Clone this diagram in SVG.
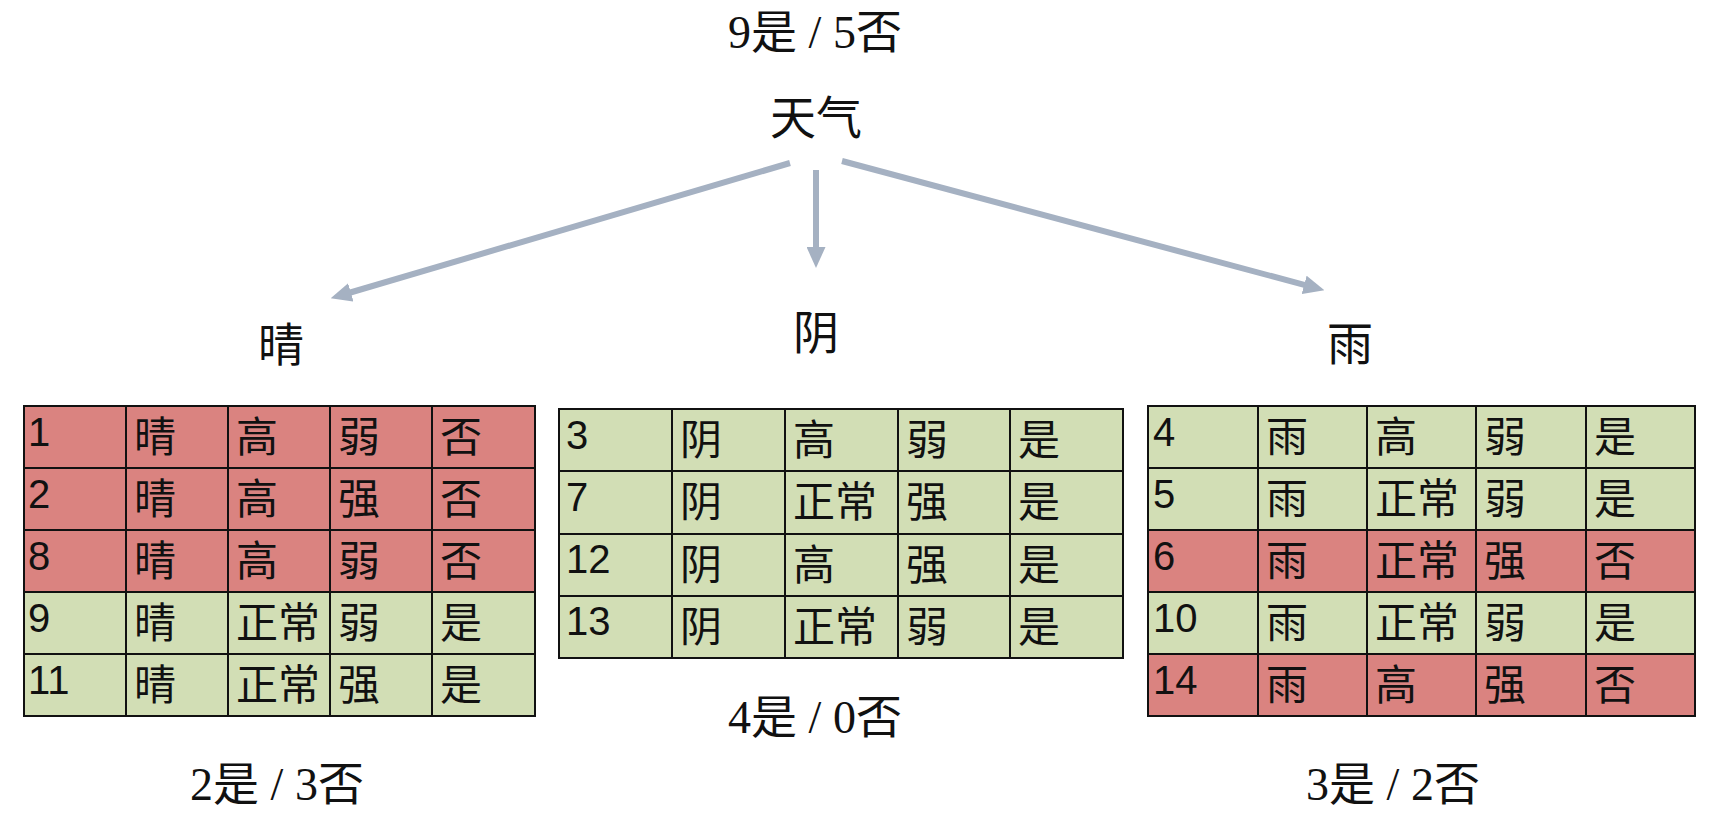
<svg xmlns="http://www.w3.org/2000/svg" width="1726" height="824" viewBox="0 0 1726 824">
<style>
.bg{fill:#ffffff}
.r{fill:#DA8380;stroke:#111;stroke-width:2}
.g{fill:#D2DEB5;stroke:#111;stroke-width:2}
.num{font-family:"Liberation Sans","Noto Sans CJK SC",sans-serif;font-size:40px;fill:#111}
.cjk{font-family:"Noto Sans CJK SC","Liberation Sans",sans-serif;font-size:42px;fill:#111}
.lbl{font-family:"Liberation Serif","Noto Sans CJK SC",serif;font-size:46px;fill:#111;text-anchor:middle}
.arr{stroke:#A5B1C2;stroke-width:6;fill:none;marker-end:url(#ah)}
</style>
<defs>
<marker id="ah" markerUnits="userSpaceOnUse" markerWidth="21" markerHeight="19" refX="4" refY="9.5" orient="auto">
<path d="M0,0 L21,9.5 L0,19 z" fill="#A5B1C2"/>
</marker>
</defs>
<rect class="bg" x="0" y="0" width="1726" height="824"/>

<g id="root">
<text class="lbl" x="815" y="48">9是 / 5否</text>
<text class="lbl" x="816" y="134">天气</text>
</g>

<g id="connectors">
<line class="arr" x1="790" y1="163" x2="347" y2="293.5"/>
<line class="arr" x1="816" y1="170" x2="816" y2="251"/>
<line class="arr" x1="842" y1="161" x2="1308" y2="285.9"/>
</g>

<g id="sunny">
<text class="lbl" x="281" y="361">晴</text>
<g id="sunny-table">
<rect class="r" x="24" y="406" width="102" height="62"/><rect class="r" x="126" y="406" width="102" height="62"/><rect class="r" x="228" y="406" width="102" height="62"/><rect class="r" x="330" y="406" width="102" height="62"/><rect class="r" x="432" y="406" width="103" height="62"/>
<rect class="r" x="24" y="468" width="102" height="62"/><rect class="r" x="126" y="468" width="102" height="62"/><rect class="r" x="228" y="468" width="102" height="62"/><rect class="r" x="330" y="468" width="102" height="62"/><rect class="r" x="432" y="468" width="103" height="62"/>
<rect class="r" x="24" y="530" width="102" height="62"/><rect class="r" x="126" y="530" width="102" height="62"/><rect class="r" x="228" y="530" width="102" height="62"/><rect class="r" x="330" y="530" width="102" height="62"/><rect class="r" x="432" y="530" width="103" height="62"/>
<rect class="g" x="24" y="592" width="102" height="62"/><rect class="g" x="126" y="592" width="102" height="62"/><rect class="g" x="228" y="592" width="102" height="62"/><rect class="g" x="330" y="592" width="102" height="62"/><rect class="g" x="432" y="592" width="103" height="62"/>
<rect class="g" x="24" y="654" width="102" height="62"/><rect class="g" x="126" y="654" width="102" height="62"/><rect class="g" x="228" y="654" width="102" height="62"/><rect class="g" x="330" y="654" width="102" height="62"/><rect class="g" x="432" y="654" width="103" height="62"/>
<text class="num" x="28" y="446">1</text><text class="cjk" x="134" y="452">晴</text><text class="cjk" x="236" y="452">高</text><text class="cjk" x="338" y="452">弱</text><text class="cjk" x="440" y="452">否</text>
<text class="num" x="28" y="508">2</text><text class="cjk" x="134" y="514">晴</text><text class="cjk" x="236" y="514">高</text><text class="cjk" x="338" y="514">强</text><text class="cjk" x="440" y="514">否</text>
<text class="num" x="28" y="570">8</text><text class="cjk" x="134" y="576">晴</text><text class="cjk" x="236" y="576">高</text><text class="cjk" x="338" y="576">弱</text><text class="cjk" x="440" y="576">否</text>
<text class="num" x="28" y="632">9</text><text class="cjk" x="134" y="638">晴</text><text class="cjk" x="236" y="638">正常</text><text class="cjk" x="338" y="638">弱</text><text class="cjk" x="440" y="638">是</text>
<text class="num" x="28" y="694">11</text><text class="cjk" x="134" y="700">晴</text><text class="cjk" x="236" y="700">正常</text><text class="cjk" x="338" y="700">强</text><text class="cjk" x="440" y="700">是</text>
</g>
<text class="lbl" x="277" y="800">2是 / 3否</text>
</g>

<g id="overcast">
<text class="lbl" x="816" y="349">阴</text>
<g id="overcast-table">
<rect class="g" x="559" y="409" width="113" height="62"/><rect class="g" x="672" y="409" width="113" height="62"/><rect class="g" x="785" y="409" width="113" height="62"/><rect class="g" x="898" y="409" width="112" height="62"/><rect class="g" x="1010" y="409" width="113" height="62"/>
<rect class="g" x="559" y="471" width="113" height="63"/><rect class="g" x="672" y="471" width="113" height="63"/><rect class="g" x="785" y="471" width="113" height="63"/><rect class="g" x="898" y="471" width="112" height="63"/><rect class="g" x="1010" y="471" width="113" height="63"/>
<rect class="g" x="559" y="534" width="113" height="62"/><rect class="g" x="672" y="534" width="113" height="62"/><rect class="g" x="785" y="534" width="113" height="62"/><rect class="g" x="898" y="534" width="112" height="62"/><rect class="g" x="1010" y="534" width="113" height="62"/>
<rect class="g" x="559" y="596" width="113" height="62"/><rect class="g" x="672" y="596" width="113" height="62"/><rect class="g" x="785" y="596" width="113" height="62"/><rect class="g" x="898" y="596" width="112" height="62"/><rect class="g" x="1010" y="596" width="113" height="62"/>
<text class="num" x="566" y="449">3</text><text class="cjk" x="680" y="455">阴</text><text class="cjk" x="793" y="455">高</text><text class="cjk" x="906" y="455">弱</text><text class="cjk" x="1018" y="455">是</text>
<text class="num" x="566" y="511">7</text><text class="cjk" x="680" y="517">阴</text><text class="cjk" x="793" y="517">正常</text><text class="cjk" x="906" y="517">强</text><text class="cjk" x="1018" y="517">是</text>
<text class="num" x="566" y="573">12</text><text class="cjk" x="680" y="580">阴</text><text class="cjk" x="793" y="580">高</text><text class="cjk" x="906" y="580">强</text><text class="cjk" x="1018" y="580">是</text>
<text class="num" x="566" y="635">13</text><text class="cjk" x="680" y="642">阴</text><text class="cjk" x="793" y="642">正常</text><text class="cjk" x="906" y="642">弱</text><text class="cjk" x="1018" y="642">是</text>
</g>
<text class="lbl" x="815" y="733">4是 / 0否</text>
</g>

<g id="rain">
<text class="lbl" x="1350" y="360">雨</text>
<g id="rain-table">
<rect class="g" x="1148" y="406" width="110" height="62"/><rect class="g" x="1258" y="406" width="109" height="62"/><rect class="g" x="1367" y="406" width="109" height="62"/><rect class="g" x="1476" y="406" width="110" height="62"/><rect class="g" x="1586" y="406" width="109" height="62"/>
<rect class="g" x="1148" y="468" width="110" height="62"/><rect class="g" x="1258" y="468" width="109" height="62"/><rect class="g" x="1367" y="468" width="109" height="62"/><rect class="g" x="1476" y="468" width="110" height="62"/><rect class="g" x="1586" y="468" width="109" height="62"/>
<rect class="r" x="1148" y="530" width="110" height="62"/><rect class="r" x="1258" y="530" width="109" height="62"/><rect class="r" x="1367" y="530" width="109" height="62"/><rect class="r" x="1476" y="530" width="110" height="62"/><rect class="r" x="1586" y="530" width="109" height="62"/>
<rect class="g" x="1148" y="592" width="110" height="62"/><rect class="g" x="1258" y="592" width="109" height="62"/><rect class="g" x="1367" y="592" width="109" height="62"/><rect class="g" x="1476" y="592" width="110" height="62"/><rect class="g" x="1586" y="592" width="109" height="62"/>
<rect class="r" x="1148" y="654" width="110" height="62"/><rect class="r" x="1258" y="654" width="109" height="62"/><rect class="r" x="1367" y="654" width="109" height="62"/><rect class="r" x="1476" y="654" width="110" height="62"/><rect class="r" x="1586" y="654" width="109" height="62"/>
<text class="num" x="1153" y="446">4</text><text class="cjk" x="1266" y="452">雨</text><text class="cjk" x="1375" y="452">高</text><text class="cjk" x="1484" y="452">弱</text><text class="cjk" x="1594" y="452">是</text>
<text class="num" x="1153" y="508">5</text><text class="cjk" x="1266" y="514">雨</text><text class="cjk" x="1375" y="514">正常</text><text class="cjk" x="1484" y="514">弱</text><text class="cjk" x="1594" y="514">是</text>
<text class="num" x="1153" y="570">6</text><text class="cjk" x="1266" y="576">雨</text><text class="cjk" x="1375" y="576">正常</text><text class="cjk" x="1484" y="576">强</text><text class="cjk" x="1594" y="576">否</text>
<text class="num" x="1153" y="632">10</text><text class="cjk" x="1266" y="638">雨</text><text class="cjk" x="1375" y="638">正常</text><text class="cjk" x="1484" y="638">弱</text><text class="cjk" x="1594" y="638">是</text>
<text class="num" x="1153" y="694">14</text><text class="cjk" x="1266" y="700">雨</text><text class="cjk" x="1375" y="700">高</text><text class="cjk" x="1484" y="700">强</text><text class="cjk" x="1594" y="700">否</text>
</g>
<text class="lbl" x="1393" y="800">3是 / 2否</text>
</g>
</svg>
